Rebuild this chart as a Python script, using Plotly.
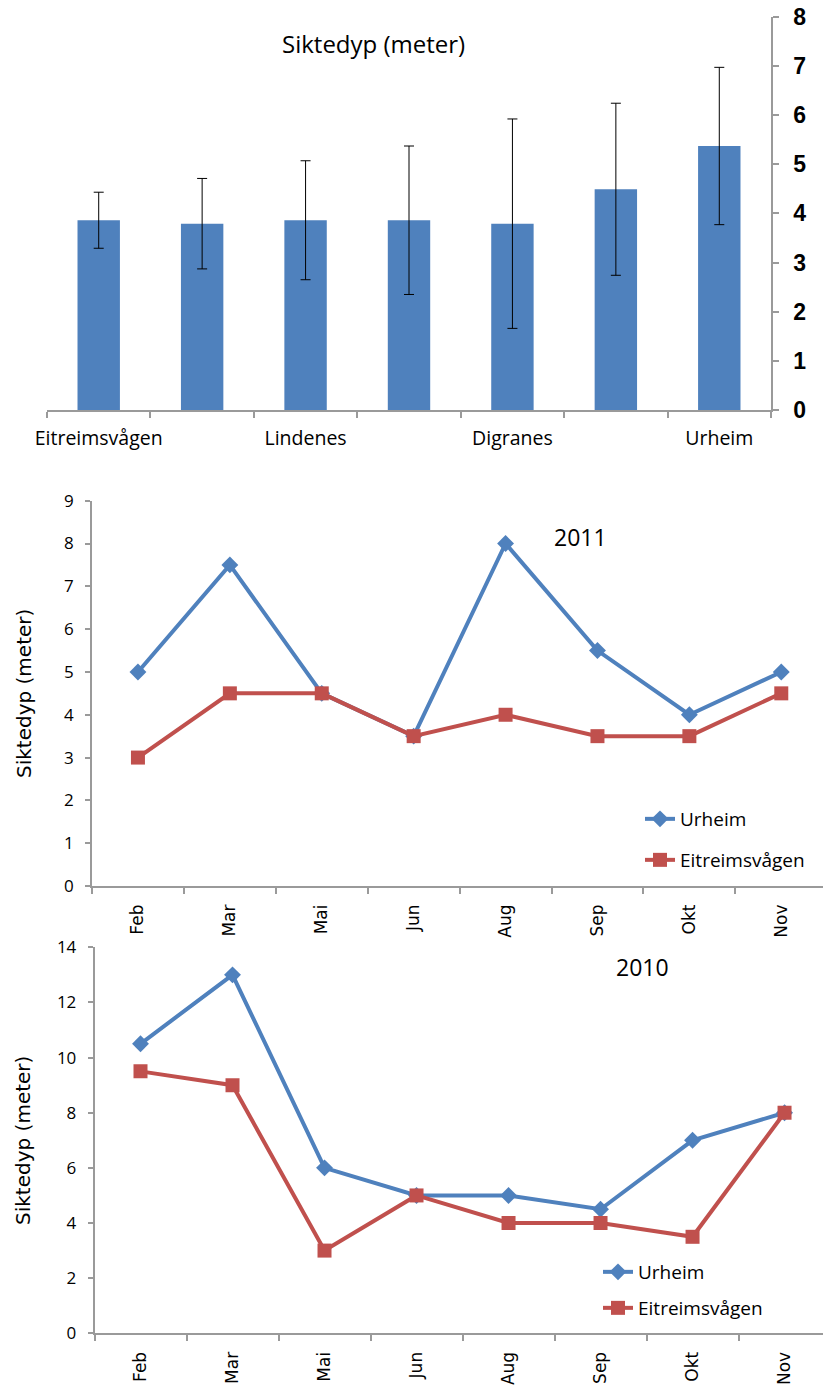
import plotly.graph_objects as go

W, H = 823, 1385

# ---- Data: top bar chart ----
sites = ["Eitreimsvågen", "", "Lindenes", "", "Digranes", "", "Urheim"]
site_mean = [3.86, 3.79, 3.86, 3.86, 3.79, 4.49, 5.37]
site_err = [0.57, 0.92, 1.21, 1.51, 2.13, 1.75, 1.60]
bar_ticks = [0, 1, 2, 3, 4, 5, 6]
bar_yticks = [0, 1, 2, 3, 4, 5, 6, 7, 8]

# ---- Data: line charts ----
months = ["Feb", "Mar", "Mai", "Jun", "Aug", "Sep", "Okt", "Nov"]
urheim_2011 = [5, 7.5, 4.5, 3.5, 8, 5.5, 4, 5]
eitreim_2011 = [3, 4.5, 4.5, 3.5, 4, 3.5, 3.5, 4.5]
urheim_2010 = [10.5, 13, 6, 5, 5, 4.5, 7, 8]
eitreim_2010 = [9.5, 9, 3, 5, 4, 4, 3.5, 8]

BLUE = "#4F81BD"
RED = "#C0504D"
AXIS = "#9A9A9A"
CAL = "Open Sans"
VER = "DejaVu Sans"


def px_x(p):
    return p / W


def px_y(p):
    return 1 - p / H


fig = go.Figure()

# Bar chart
fig.add_trace(go.Bar(
    x=bar_ticks, y=site_mean, width=0.41, marker=dict(color=BLUE, line=dict(width=0)),
    error_y=dict(type="data", array=site_err, visible=True, color="#000000", thickness=1, width=5),
    xaxis="x", yaxis="y", showlegend=False, name="Siktedyp"))

# 2011
fig.add_trace(go.Scatter(x=months, y=urheim_2011, mode="lines+markers", name="Urheim",
                         line=dict(color=BLUE, width=4), marker=dict(symbol="diamond", size=13, color=BLUE),
                         xaxis="x2", yaxis="y2", legend="legend"))
fig.add_trace(go.Scatter(x=months, y=eitreim_2011, mode="lines+markers", name="Eitreimsvågen",
                         line=dict(color=RED, width=4), marker=dict(symbol="square", size=14, color=RED),
                         xaxis="x2", yaxis="y2", legend="legend2"))
# 2010
fig.add_trace(go.Scatter(x=months, y=urheim_2010, mode="lines+markers", name="Urheim",
                         line=dict(color=BLUE, width=4), marker=dict(symbol="diamond", size=13, color=BLUE),
                         xaxis="x3", yaxis="y3", legend="legend3"))
fig.add_trace(go.Scatter(x=months, y=eitreim_2010, mode="lines+markers", name="Eitreimsvågen",
                         line=dict(color=RED, width=4), marker=dict(symbol="square", size=14, color=RED),
                         xaxis="x3", yaxis="y3", legend="legend4"))

label_ticks = [i for i, s in enumerate(sites) if s]
label_text = [s for s in sites if s]

axis_common = dict(showline=True, linecolor=AXIS, linewidth=1.5, showgrid=False, zeroline=False,
                   tickcolor=AXIS, tickwidth=1.5, automargin=False)

legend_common = dict(xanchor="left", yanchor="middle", bgcolor="rgba(0,0,0,0)",
                     font=dict(family=CAL, size=19, color="#000000"), borderwidth=0)

fig.update_layout(
    template="none",
    width=W, height=H, margin=dict(l=0, r=0, t=0, b=0, autoexpand=False),
    paper_bgcolor="white", plot_bgcolor="white",
    xaxis=dict(domain=[px_x(47), px_x(771)], range=[-0.5, 6.5], anchor="y",
               tickmode="array", tickvals=label_ticks, ticktext=label_text, ticks="",
               tickfont=dict(family=CAL, size=19.5, color="#000000"), ticklabelstandoff=10,
               minor=dict(tickmode="linear", tick0=-0.5, dtick=1, ticks="outside", ticklen=6,
                          tickcolor=AXIS, tickwidth=1.5),
               **axis_common),
    yaxis=dict(domain=[px_y(410), px_y(16.7)], range=[0, 8], anchor="x", side="right",
               tickmode="array", tickvals=bar_yticks, ticks="outside", ticklen=6,
               tickfont=dict(family="Liberation Sans", size=23, color="#000000", weight="bold"),
               ticklabelstandoff=10, **axis_common),
    xaxis2=dict(domain=[px_x(92), 1.0], range=[-0.5, 7.454], anchor="y2", type="category",
                categoryorder="array", categoryarray=months, tickson="boundaries",
                ticks="outside", ticklen=6, tickangle=-90,
                tickfont=dict(family=VER, size=17, color="#000000"),
                ticklabelstandoff=10, **axis_common),
    yaxis2=dict(domain=[px_y(886), px_y(500.7)], range=[0, 9], anchor="x2", dtick=1,
                ticks="outside", ticklen=5,
                tickfont=dict(family=CAL, size=17, color="#000000"), ticklabelstandoff=8,
                title=dict(text="Siktedyp (meter)", font=dict(family=VER, size=20, color="#000000"), standoff=27),
                **axis_common),
    xaxis3=dict(domain=[px_x(94.5), 1.0], range=[-0.5, 7.418], anchor="y3", type="category",
                categoryorder="array", categoryarray=months, tickson="boundaries",
                ticks="outside", ticklen=6, tickangle=-90,
                tickfont=dict(family=VER, size=17, color="#000000"),
                ticklabelstandoff=10, **axis_common),
    yaxis3=dict(domain=[px_y(1333.3), px_y(947.3)], range=[0, 14], anchor="x3", dtick=2,
                ticks="outside", ticklen=5,
                tickfont=dict(family=CAL, size=17, color="#000000"), ticklabelstandoff=8,
                title=dict(text="Siktedyp (meter)", font=dict(family=VER, size=20, color="#000000"), standoff=21),
                **axis_common),
    legend=dict(x=px_x(640), y=px_y(819), **legend_common),
    legend2=dict(x=px_x(640), y=px_y(860), **legend_common),
    legend3=dict(x=px_x(598), y=px_y(1272), **legend_common),
    legend4=dict(x=px_x(598), y=px_y(1308), **legend_common),
    annotations=[
        dict(text="Siktedyp (meter)", x=px_x(373), y=px_y(25), xref="paper", yref="paper",
             showarrow=False, font=dict(family=CAL, size=24, color="#000000")),
        dict(text="2011", x=px_x(609), y=px_y(537), xref="paper", yref="paper",
             showarrow=False, font=dict(family=CAL, size=23, color="#000000")),
        dict(text="2010", x=px_x(671), y=px_y(985), xref="paper", yref="paper",
             showarrow=False, font=dict(family=CAL, size=23, color="#000000")),
    ],
)

fig.write_html("out.html", config={"displayModeBar": False},
               post_script="document.body.style.margin='0px';")
